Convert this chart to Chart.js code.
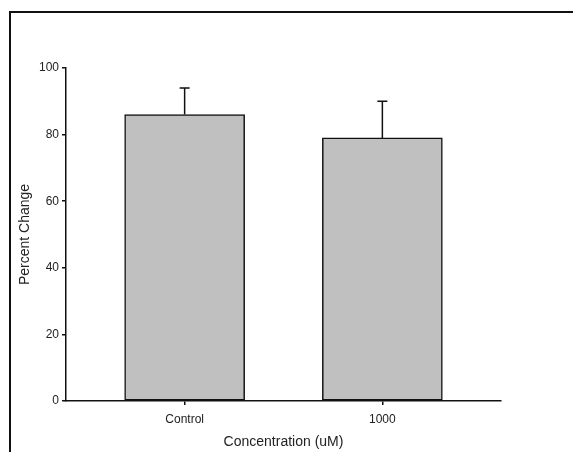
<!DOCTYPE html>
<html>
<head>
<meta charset="utf-8">
<script src="https://cdn.jsdelivr.net/npm/chart.js@4"></script>
<style>
  html, body { margin: 0; padding: 0; background: #fff; }
  #wrap { width: 573px; height: 452px; }
</style>
</head>
<body>
<div id="wrap"><canvas id="barChart" width="573" height="452"></canvas></div>
<script>
const categories = ['Control', '1000'];
const values = [86, 79];
const errors = [8, 11];
const yTicks = [0, 20, 40, 60, 80, 100];

const ctx = document.getElementById('barChart').getContext('2d');

// outer frame (top and left edges only, the rest is cut off)
const framePlugin = {
  id: 'frame',
  afterDraw(chart) {
    const c = chart.ctx;
    c.save();
    c.strokeStyle = '#111';
    c.lineWidth = 2;
    c.beginPath();
    c.moveTo(10, 452);
    c.lineTo(10, 12);
    c.lineTo(573, 12);
    c.stroke();
    c.restore();
  }
};

// one-sided error bars above each bar
const errorBarPlugin = {
  id: 'errorBars',
  afterDatasetsDraw(chart) {
    const c = chart.ctx;
    const xs = chart.scales.x;
    const ys = chart.scales.y;
    c.save();
    c.strokeStyle = '#111';
    c.lineWidth = 1.5;
    values.forEach((v, i) => {
      const x = xs.getPixelForValue(i + 1);
      const yTop = ys.getPixelForValue(v);
      const yErr = ys.getPixelForValue(v + errors[i]);
      c.beginPath();
      c.moveTo(x, yTop);
      c.lineTo(x, yErr);
      c.moveTo(x - 5, yErr);
      c.lineTo(x + 5, yErr);
      c.stroke();
    });
    c.restore();
  }
};

const tickFont = { family: 'Liberation Sans', size: 12 };
const titleFont = { family: 'Liberation Sans', size: 14 };

new Chart(ctx, {
  type: 'bar',
  data: {
    datasets: [{
      data: categories.map((c, i) => ({ x: i + 1, y: values[i] })),
      backgroundColor: '#c0c0c0',
      borderColor: '#111',
      borderWidth: 1.5,
      borderSkipped: false,
      barThickness: 120
    }]
  },
  options: {
    responsive: false,
    animation: false,
    layout: { padding: { top: 68, right: 72, left: 0, bottom: 0 } },
    plugins: {
      legend: { display: false },
      tooltip: { enabled: false }
    },
    scales: {
      x: {
        type: 'linear',
        min: 0.4,
        max: 2.6,
        offset: false,
        afterBuildTicks(scale) {
          scale.ticks = categories.map((c, i) => ({ value: i + 1 }));
        },
        afterFit(scale) { scale.height = 51; },
        ticks: {
          callback: (v) => categories[v - 1],
          font: tickFont,
          color: '#222',
          padding: 7,
          maxRotation: 0
        },
        grid: { offset: false, drawOnChartArea: false, drawTicks: true, tickLength: 4, color: '#111', lineWidth: 1.5 },
        border: { color: '#111', width: 1.5 },
        title: { display: true, text: 'Concentration (uM)', font: titleFont, color: '#222', padding: { top: 0, bottom: 1 } }
      },
      y: {
        min: 0,
        max: 100,
        afterBuildTicks(scale) {
          scale.ticks = yTicks.map(v => ({ value: v }));
        },
        afterFit(scale) { scale.width = 66; },
        ticks: { font: tickFont, color: '#222', padding: 3 },
        grid: { drawOnChartArea: false, drawTicks: true, tickLength: 4, color: '#111', lineWidth: 1.5 },
        border: { color: '#111', width: 1.5 },
        title: { display: true, text: 'Percent Change', font: titleFont, color: '#222', padding: { top: 17, bottom: 0 } }
      }
    }
  },
  plugins: [framePlugin, errorBarPlugin]
});
</script>
</body>
</html>
